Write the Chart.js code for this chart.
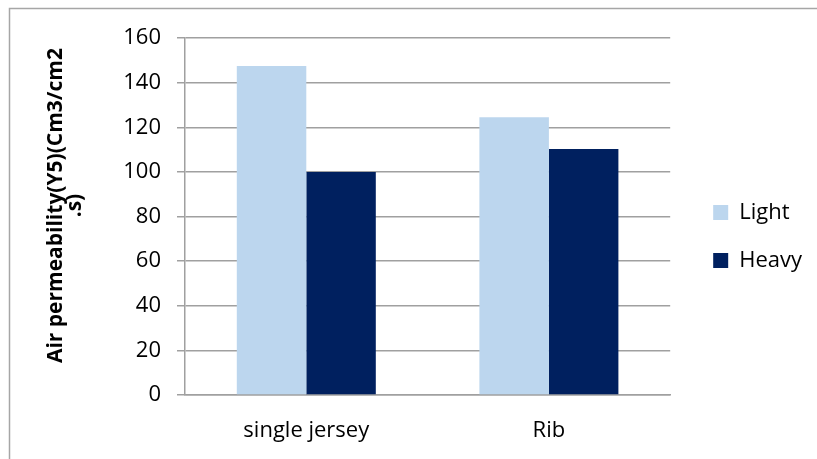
<!DOCTYPE html>
<html>
<head>
<meta charset="utf-8">
<script src="https://cdn.jsdelivr.net/npm/chart.js@4.4.1/dist/chart.umd.min.js"></script>
<style>
  html, body { margin: 0; padding: 0; background: #ffffff; }
  #wrap { position: relative; width: 817px; height: 459px; }
</style>
</head>
<body>
<div id="wrap"><canvas id="chart" width="817" height="459"></canvas></div>
<script>
// Fabric types and their air permeability readings
const categories = ['single jersey', 'Rib'];
const lightValues = [147.5, 124.5];
const heavyValues = [100, 110.3];
const seriesNames = ['Light', 'Heavy'];
const yTitleLines = ['    Air permeability(Y5)(Cm3/cm2', '    .s)'];

const FONT = "'Open Sans', 'Liberation Sans', sans-serif";

// Thin frame along the top and left edges of the figure
const framePlugin = {
  id: 'frame',
  beforeDraw(chart) {
    const ctx = chart.ctx;
    ctx.save();
    ctx.fillStyle = '#ffffff';
    ctx.fillRect(0, 0, chart.width, chart.height);
    ctx.strokeStyle = '#a6a6a6';
    ctx.lineWidth = 1.5;
    ctx.beginPath();
    ctx.moveTo(9.5, chart.height);
    ctx.lineTo(9.5, 8.5);
    ctx.lineTo(chart.width, 8.5);
    ctx.stroke();
    ctx.restore();
  }
};

// Nudge the legend block away from the plot area
const legendOffset = { dx: 17, dy: -12 };
const legendShiftPlugin = {
  id: 'legendShift',
  afterLayout(chart) {
    const lg = chart.legend;
    if (!lg) return;
    lg.left += legendOffset.dx; lg.right += legendOffset.dx;
    lg.top += legendOffset.dy; lg.bottom += legendOffset.dy;
  }
};

new Chart(document.getElementById('chart'), {
  type: 'bar',
  data: {
    labels: categories,
    datasets: [
      { label: seriesNames[0], data: lightValues, backgroundColor: '#bcd6ee', borderWidth: 0 },
      { label: seriesNames[1], data: heavyValues, backgroundColor: '#00205f', borderWidth: 0 }
    ]
  },
  options: {
    responsive: false,
    animation: false,
    layout: { padding: { left: 36, top: 38, right: 22, bottom: 0 } },
    datasets: { bar: { categoryPercentage: 0.573, barPercentage: 1.0 } },
    plugins: {
      legend: {
        position: 'right',
        labels: {
          boxWidth: 15,
          boxHeight: 15,
          padding: 26,
          color: '#000000',
          font: { family: FONT, size: 22 }
        }
      },
      tooltip: { enabled: false }
    },
    scales: {
      x: {
        afterFit(scale) { scale.height = 64; },
        grid: { display: false, drawTicks: false },
        border: { display: true, color: '#a0a0a0', width: 1.5 },
        ticks: { color: '#000000', padding: 23, font: { family: FONT, size: 22 } }
      },
      y: {
        afterFit(scale) { scale.width = 149; },
        min: 0,
        max: 160,
        ticks: { stepSize: 20, color: '#000000', padding: 16, font: { family: FONT, size: 22 } },
        grid: { color: '#a0a0a0', lineWidth: 1.5, tickLength: 8 },
        border: { display: true, color: '#a0a0a0', width: 1.5 },
        title: {
          display: true,
          text: yTitleLines,
          color: '#000000',
          padding: { top: 10, bottom: 0 },
          font: { family: FONT, size: 21, weight: 'bold', lineHeight: 0.92 }
        }
      }
    }
  },
  plugins: [framePlugin, legendShiftPlugin]
});
</script>
</body>
</html>
